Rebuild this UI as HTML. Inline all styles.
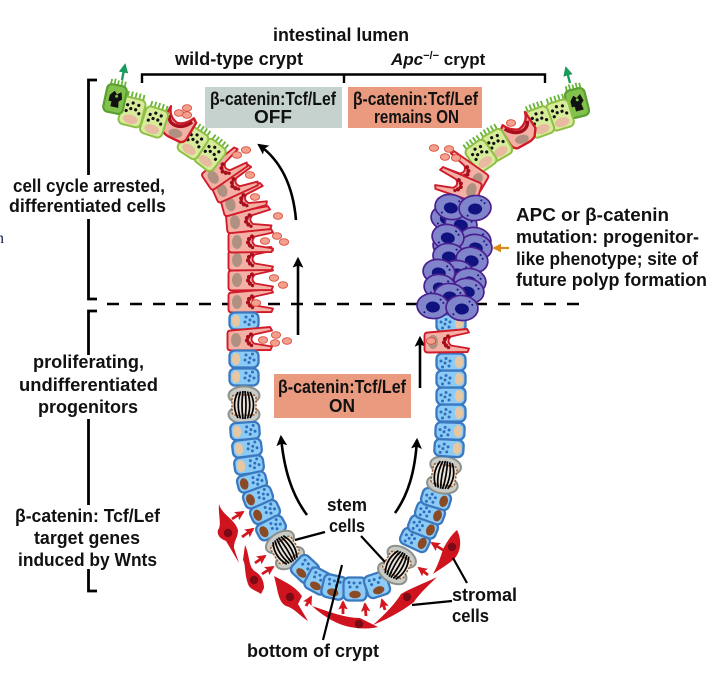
<!DOCTYPE html>
<html>
<head>
<meta charset="utf-8">
<style>
html,body{margin:0;padding:0;background:#fff;width:714px;height:676px;overflow:hidden}
svg{display:block}
text{font-family:"Liberation Sans",sans-serif;font-weight:bold;font-size:18px;fill:#111}
</style>
</head>
<body>
<svg width="714" height="676" viewBox="0 0 714 676" xmlns="http://www.w3.org/2000/svg">
<defs>
<marker id="mk" viewBox="0 0 10 10" refX="8" refY="5" markerWidth="4.2" markerHeight="5" orient="auto" markerUnits="strokeWidth"><path d="M0,0L10,5L0,10L2,5Z" fill="#000"/></marker>
<marker id="mr" viewBox="0 0 10 10" refX="8" refY="5" markerWidth="3.4" markerHeight="3.6" orient="auto" markerUnits="strokeWidth"><path d="M0,0L10,5L0,10L2,5Z" fill="#d4161f"/></marker>
<marker id="mg" viewBox="0 0 10 10" refX="8" refY="5" markerWidth="4" markerHeight="4.4" orient="auto" markerUnits="strokeWidth"><path d="M0,0L10,5L0,10Z" fill="#1d9a5e"/></marker>
<marker id="mo" viewBox="0 0 10 10" refX="8" refY="5" markerWidth="4" markerHeight="4.4" orient="auto" markerUnits="strokeWidth"><path d="M0,0L10,5L0,10Z" fill="#d98a1a"/></marker>
<g id="dots"><circle cx="2" cy="-4" r="1.5"/><circle cx="6" cy="-1" r="1.5"/><circle cx="1" cy="1" r="1.5"/><circle cx="5" cy="3.5" r="1.5"/><circle cx="8.5" cy="-5" r="1.5"/><circle cx="10" cy="1" r="1.5"/></g>
<g id="bt"><rect x="-14.5" y="-8.5" width="29" height="17" rx="5.5" fill="#8ccbf5" stroke="#3a78c0" stroke-width="2.3"/><ellipse cx="-8" cy="0" rx="4.2" ry="6" fill="#e6c7a2"/><use href="#dots" fill="#2f6fbd"/></g>
<g id="bb"><rect x="-14.5" y="-8.5" width="29" height="17" rx="5.5" fill="#8ccbf5" stroke="#3a78c0" stroke-width="2.3"/><ellipse cx="-8" cy="0" rx="4.2" ry="5.8" fill="#8a4a25"/><use href="#dots" fill="#2f6fbd"/></g>
<g id="bs"><rect x="-11.5" y="-11.5" width="23" height="23" rx="5.5" fill="#8ccbf5" stroke="#3a78c0" stroke-width="2.3"/><ellipse cx="-5.5" cy="0" rx="3.8" ry="5.8" fill="#8a4a25"/><g fill="#2f6fbd"><circle cx="2" cy="-5" r="1.5"/><circle cx="6" cy="-1" r="1.5"/><circle cx="2" cy="2" r="1.5"/><circle cx="6" cy="5" r="1.5"/><circle cx="6.5" cy="-6" r="1.5"/></g></g>
<g id="st"><ellipse cx="0" cy="-9.5" rx="15.5" ry="9" fill="#c9cbc6" stroke="#8d918c" stroke-width="2"/><ellipse cx="0" cy="9.5" rx="15.5" ry="9" fill="#c9cbc6" stroke="#8d918c" stroke-width="2"/><rect x="-12" y="-10" width="24" height="20" rx="3" fill="#e8e2d8" stroke="#a0623a" stroke-width="1.6" stroke-dasharray="2.2 1.4"/><g fill="none" stroke="#000" stroke-width="1.7"><path d="M-6,-13Q-13,0-6,13M-3.5,-13.5Q-8,0-3.5,13.5M-1,-14Q-3,0-1,14M1,-14Q3,0 1,14M3.5,-13.5Q8,0 3.5,13.5M6,-13Q13,0 6,13"/></g></g>
<g id="gb"><path d="M-18,-9.5L21,-13L23,-9.5L5,-5.5Q0,-1 5,3.5L23,6.5L21.5,10L-18,10.5Q-21.5,10.5-21.5,7.5L-21.5,-6.5Q-21.5,-9.5-18,-9.5Z" fill="#f4b0a4" stroke="#d01c2a" stroke-width="1.9" stroke-linejoin="round"/><ellipse cx="-13" cy="0" rx="5" ry="7" fill="#b09080"/><g fill="#a80f1e"><circle cx="2" cy="-5.5" r="2.1"/><circle cx="-1" cy="-3" r="2.1"/><circle cx="-2" cy="0.5" r="2.1"/><circle cx="0" cy="3.5" r="2.1"/><circle cx="2.5" cy="5.5" r="1.7"/></g></g>
<g id="gc"><path d="M-16,0L-10,-18Q-10,-7 0,-3Q8,-3 15,-11L18,-7L12,11Q10,15 6,15L-6,12Q-10,11-13,8Z" fill="#f4b0a4" stroke="#d01c2a" stroke-width="2.4" stroke-linejoin="round"/><path d="M-10,-9Q-9,-1 0,0Q8,0 14,-7" fill="none" stroke="#a80f1e" stroke-width="3.4"/><ellipse cx="0" cy="7.5" rx="7" ry="4.4" fill="#b09080"/></g>
<g id="gn"><path d="M-8,-13L-8,-19.5M-4,-13L-4,-20M0,-13L0,-20M4,-13L4,-20M8,-13L8,-19.5" stroke="#67b636" stroke-width="1.8" fill="none"/><rect x="-11.5" y="-14" width="23" height="28" rx="5" fill="#d7ec9a" stroke="#8fbf45" stroke-width="2"/><ellipse cx="0" cy="7.5" rx="7.5" ry="4.6" fill="#e8bba0"/><g fill="#111"><circle cx="-6" cy="-6" r="1.6"/><circle cx="-1" cy="-9" r="1.6"/><circle cx="5" cy="-8" r="1.6"/><circle cx="-2" cy="-3" r="1.6"/><circle cx="3" cy="-3" r="1.6"/><circle cx="7" cy="0" r="1.6"/><circle cx="-6" cy="0" r="1.6"/></g></g>
<g id="gd"><path d="M-7,-14L-7,-19M-3.5,-14L-3.5,-20M0,-14L0,-19M3.5,-14L3.5,-20M7,-14L7,-19" stroke="#67b636" stroke-width="1.8"/><rect x="-10" y="-14" width="20" height="28" rx="5" fill="#82c24c" stroke="#5aa032" stroke-width="2.2"/><path d="M-6,-3L-2,-8L1,-5L5,-8L7,-1L4,2L5,8L-3,8L-3,3L-6,3Z" fill="#111"/><circle cx="1" cy="-3" r="1.5" fill="#82c24c"/></g>
<g id="pu"><ellipse cx="0" cy="0" rx="16" ry="12.5" fill="#8084cb" stroke="#4a1f8f" stroke-width="1.7"/><ellipse cx="0" cy="1" rx="7" ry="5.5" fill="#10137f"/><circle cx="7" cy="-7" r="1" fill="#10137f"/><circle cx="10" cy="-4" r="1" fill="#10137f"/><circle cx="-8" cy="7" r="1" fill="#10137f"/></g>
<ellipse id="pk" cx="0" cy="0" rx="4.6" ry="3.3" fill="#f4a08e" stroke="#d9503c" stroke-width=".9"/>
</defs>

<rect width="714" height="676" fill="#fff"/>
<text x="-4" y="243" style="font-size:16px;font-weight:normal;font-family:'Liberation Serif',serif;fill:#0a1a4c">n</text>

<!-- brackets -->
<g fill="none" stroke="#000" stroke-width="2.8">
<path d="M142,83V74.5H545V83M344,74.5V83" stroke-width="2.4"/>
<path d="M97,80H88.5V175M88.5,219V299H97"/>
<path d="M97,311H88.5V355M88.5,419V505M88.5,569V591H97"/>
</g>
<path d="M107,304H590" stroke="#000" stroke-width="2.6" stroke-dasharray="12 11" fill="none"/>

<!-- boxes -->
<rect x="205" y="87" width="137" height="41" fill="#c6d2ce"/>
<rect x="348" y="87" width="134" height="41" fill="#ea9a7e"/>
<rect x="274" y="374" width="137" height="44" fill="#ea9a7e"/>

<!-- black arrows -->
<g fill="none" stroke="#000" stroke-width="2.6">
<path d="M296,220C293,185 280,160 259,145" marker-end="url(#mk)"/>
<path d="M298,335V259" marker-end="url(#mk)"/>
<path d="M420,388V338" marker-end="url(#mk)"/>
<path d="M307,515C292,495 284,470 281,437" marker-end="url(#mk)"/>
<path d="M395,513C408,495 415,472 417,440" marker-end="url(#mk)"/>
</g>

<!-- left column -->
<use href="#gb" transform="translate(250,302)"/>
<use href="#gb" transform="translate(250,280)"/>
<use href="#gb" transform="translate(250,260)"/>
<use href="#gb" transform="translate(250,242)"/>
<use href="#gb" transform="translate(248,221) rotate(-5)"/>
<use href="#gb" transform="translate(243,201) rotate(-15)"/>
<use href="#gb" transform="translate(234,185) rotate(-24)"/>
<use href="#gb" transform="translate(224,170) rotate(-34)"/>
<use href="#gn" transform="translate(210,155) rotate(38)"/>
<use href="#gn" transform="translate(193,143) rotate(33)"/>
<use href="#gc" transform="translate(177,126) rotate(12)"/>
<use href="#gn" transform="translate(154,122) rotate(18)"/>
<use href="#gn" transform="translate(132,112) rotate(14)"/>
<use href="#gd" transform="translate(115,99) rotate(12)"/>

<use href="#bt" transform="translate(244,321)"/>
<use href="#gb" transform="translate(249,340)"/>
<use href="#bt" transform="translate(244,359)"/>
<use href="#bt" transform="translate(244,377)"/>
<use href="#st" transform="translate(244,405)"/>
<use href="#bt" transform="translate(245,431) rotate(-4)"/>
<use href="#bt" transform="translate(247,448) rotate(-7)"/>
<use href="#bt" transform="translate(249,465) rotate(-8)"/>
<use href="#bb" transform="translate(252,482) rotate(-14)"/>
<use href="#bb" transform="translate(258,497) rotate(-20)"/>
<use href="#bb" transform="translate(265,512) rotate(-24)"/>
<use href="#bb" transform="translate(271,528) rotate(-28)"/>
<use href="#st" transform="translate(285,550) rotate(-32)"/>

<!-- bottom cells -->
<use href="#bs" transform="translate(305,569) rotate(-47)"/>
<use href="#bs" transform="translate(318,581) rotate(-62)"/>
<use href="#bs" transform="translate(334,587) rotate(-77)"/>
<use href="#bs" transform="translate(355,589) rotate(-90)"/>
<use href="#bs" transform="translate(377,585) rotate(-108)"/>
<use href="#st" transform="translate(397,565) rotate(30)"/>
<use href="#bb" transform="translate(415,540) rotate(-155)"/>
<use href="#bb" transform="translate(423,527) rotate(-158)"/>
<use href="#bb" transform="translate(430,513) rotate(-160)"/>
<use href="#bb" transform="translate(436,499) rotate(-163)"/>
<use href="#st" transform="translate(444,475) rotate(10)"/>

<!-- right column -->
<use href="#bt" transform="translate(449,448) rotate(-176)"/>
<use href="#bt" transform="translate(450,431) rotate(-178)"/>
<use href="#bt" transform="translate(451,413) rotate(180)"/>
<use href="#bt" transform="translate(451,396) rotate(180)"/>
<use href="#bt" transform="translate(451,379) rotate(180)"/>
<use href="#bt" transform="translate(451,362) rotate(180)"/>
<use href="#bt" transform="translate(451,323) rotate(180)"/>
<use href="#gb" transform="translate(446,342) scale(-1,1) rotate(180) scale(1,-1)"/>

<!-- top right -->
<use href="#gd" transform="translate(577,103) rotate(-14)"/>
<use href="#gn" transform="translate(560,115) rotate(-17)"/>
<use href="#gn" transform="translate(540,122) rotate(-20)"/>
<use href="#gc" transform="translate(520,132) scale(-1,1) rotate(15)"/>
<use href="#gn" transform="translate(497,145) rotate(-30)"/>
<use href="#gn" transform="translate(481,156) rotate(-35)"/>
<use href="#gb" transform="translate(466,173) scale(-1,1) rotate(-30)"/>
<use href="#gb" transform="translate(459,186) scale(-1,1) rotate(-18)"/>

<!-- purple polyp -->
<use href="#pu" transform="translate(447,218) rotate(10)"/>
<use href="#pu" transform="translate(461,224) rotate(10)"/>
<use href="#pu" transform="translate(451,207) rotate(10)"/>
<use href="#pu" transform="translate(475,208) rotate(-5)"/>
<use href="#pu" transform="translate(449,246) rotate(10)"/>
<use href="#pu" transform="translate(475,240) rotate(10)"/>
<use href="#pu" transform="translate(476,247) rotate(10)"/>
<use href="#pu" transform="translate(448,237) rotate(10)"/>
<use href="#pu" transform="translate(449,256) rotate(5)"/>
<use href="#pu" transform="translate(472,260) rotate(15)"/>
<use href="#pu" transform="translate(458,273) rotate(10)"/>
<use href="#pu" transform="translate(470,281) rotate(10)"/>
<use href="#pu" transform="translate(439,272) rotate(10)"/>
<use href="#pu" transform="translate(468,291) rotate(10)"/>
<use href="#pu" transform="translate(440,287) rotate(10)"/>
<use href="#pu" transform="translate(450,296) rotate(5)"/>
<use href="#pu" transform="translate(433,306) rotate(5)"/>
<use href="#pu" transform="translate(462,308) rotate(5)"/>

<!-- pink vesicles -->
<use href="#pk" x="179" y="113"/><use href="#pk" x="187" y="108"/><use href="#pk" x="187" y="115"/><use href="#pk" x="246" y="150"/><use href="#pk" x="237" y="155"/><use href="#pk" x="250" y="175"/><use href="#pk" x="255" y="197"/><use href="#pk" x="278" y="216"/><use href="#pk" x="277" y="236"/><use href="#pk" x="265" y="241"/><use href="#pk" x="284" y="242"/><use href="#pk" x="274" y="278"/><use href="#pk" x="283" y="285"/><use href="#pk" x="256" y="303"/>
<use href="#pk" x="276" y="335"/><use href="#pk" x="263" y="340"/><use href="#pk" x="275" y="343"/><use href="#pk" x="287" y="341"/>
<use href="#pk" x="434" y="148"/><use href="#pk" x="449" y="149"/><use href="#pk" x="445" y="157"/><use href="#pk" x="456" y="158"/><use href="#pk" x="511" y="123"/><use href="#pk" x="431" y="341"/>

<!-- stromal cells -->
<g fill="#d0141f">
<path d="M219,504C222,515 234,518 238,530C238,538 234,540 234,548L239,563L226,541C218,538 217,533 218,530C222,525 218,515 219,504Z"/>
<path d="M245,545C250,555 248,568 256,572C262,576 264,582 264,588L261,594C256,590 250,590 248,584C244,572 246,565 243,560Z"/>
<path d="M274,576C285,582 295,586 302,596L298,604L308,621C300,616 294,608 286,606C278,602 278,590 274,576Z"/>
<path d="M312,606C330,612 345,618 360,618L378,627C370,629 360,629 350,627C335,624 322,615 312,606Z"/>
<path d="M373,625C385,614 395,604 401,594C411,588 425,583 437,577C430,584 419,594 414,602C405,609 390,618 373,625Z"/>
<path d="M457,530C462,540 461,551 455,558C449,564 440,569 433,574C438,565 441,556 443,549C447,542 451,535 457,530Z"/>
</g>
<g fill="#7a0a14"><circle cx="228" cy="533" r="4.2"/><circle cx="254" cy="580" r="4.2"/><circle cx="290" cy="597" r="4.2"/><circle cx="359" cy="624" r="4.2"/><circle cx="407" cy="597" r="4.2"/><circle cx="452" cy="547" r="4.2"/></g>

<!-- small red arrows -->
<g stroke="#d4161f" stroke-width="2.8" fill="none">
<path d="M232,519L243,512" marker-end="url(#mr)"/>
<path d="M242,537L253,529" marker-end="url(#mr)"/>
<path d="M255,563L265,556" marker-end="url(#mr)"/>
<path d="M262,574L273,567" marker-end="url(#mr)"/>
<path d="M306,606L311,597" marker-end="url(#mr)"/>
<path d="M343,614V602" marker-end="url(#mr)"/>
<path d="M366,616L365,604" marker-end="url(#mr)"/>
<path d="M385,610L382,600" marker-end="url(#mr)"/>
<path d="M428,575L419,568" marker-end="url(#mr)"/>
<path d="M443,550L432,543" marker-end="url(#mr)"/>
</g>

<!-- leader lines -->
<g stroke="#000" stroke-width="2.2" fill="none">
<path d="M325,532L295,540"/>
<path d="M361,536L385,562"/>
<path d="M342,565L323,640"/>
<path d="M467,583L453,558"/>
<path d="M452,601L412,605"/>
</g>

<!-- coloured arrows -->
<path d="M122,80L125,65" stroke="#1d9a5e" stroke-width="2.4" fill="none" marker-end="url(#mg)"/>
<path d="M570,83L566,68" stroke="#1d9a5e" stroke-width="2.4" fill="none" marker-end="url(#mg)"/>
<path d="M509,248H494" stroke="#d98a1a" stroke-width="2.2" fill="none" marker-end="url(#mo)"/>

<!-- labels -->
<text x="273" y="41" textLength="136" lengthAdjust="spacingAndGlyphs">intestinal lumen</text>
<text x="175" y="65" textLength="128" lengthAdjust="spacingAndGlyphs">wild-type crypt</text>
<text x="391" y="65" style="font-size:17px"><tspan font-style="italic">Apc</tspan><tspan font-size="11" dy="-6">−/−</tspan><tspan dy="6"> crypt</tspan></text>
<text x="210" y="105" textLength="126" lengthAdjust="spacingAndGlyphs">β-catenin:Tcf/Lef</text>
<text x="273" y="123" text-anchor="middle" textLength="38" lengthAdjust="spacingAndGlyphs">OFF</text>
<text x="353" y="105" textLength="125" lengthAdjust="spacingAndGlyphs">β-catenin:Tcf/Lef</text>
<text x="374" y="123" textLength="85" lengthAdjust="spacingAndGlyphs">remains ON</text>
<text x="278" y="393" textLength="128" lengthAdjust="spacingAndGlyphs">β-catenin:Tcf/Lef</text>
<text x="342" y="412" text-anchor="middle" textLength="26" lengthAdjust="spacingAndGlyphs">ON</text>
<text x="13" y="192" textLength="152" lengthAdjust="spacingAndGlyphs">cell cycle arrested,</text>
<text x="9" y="212" textLength="157" lengthAdjust="spacingAndGlyphs">differentiated cells</text>
<text x="33" y="368" textLength="111" lengthAdjust="spacingAndGlyphs">proliferating,</text>
<text x="19" y="391" textLength="139" lengthAdjust="spacingAndGlyphs">undifferentiated</text>
<text x="38" y="413" textLength="100" lengthAdjust="spacingAndGlyphs">progenitors</text>
<text x="15" y="522" textLength="145" lengthAdjust="spacingAndGlyphs">β-catenin: Tcf/Lef</text>
<text x="34" y="544" textLength="106" lengthAdjust="spacingAndGlyphs">target genes</text>
<text x="18" y="566" textLength="139" lengthAdjust="spacingAndGlyphs">induced by Wnts</text>
<text x="327" y="511" textLength="40" lengthAdjust="spacingAndGlyphs">stem</text>
<text x="329" y="532" textLength="36" lengthAdjust="spacingAndGlyphs">cells</text>
<text x="452" y="601" textLength="65" lengthAdjust="spacingAndGlyphs">stromal</text>
<text x="452" y="622" textLength="37" lengthAdjust="spacingAndGlyphs">cells</text>
<text x="247" y="657" textLength="132" lengthAdjust="spacingAndGlyphs">bottom of crypt</text>
<text x="516" y="221" textLength="153" lengthAdjust="spacingAndGlyphs">APC or β-catenin</text>
<text x="516" y="243" textLength="183" lengthAdjust="spacingAndGlyphs">mutation: progenitor-</text>
<text x="516" y="265" textLength="182" lengthAdjust="spacingAndGlyphs">like phenotype; site of</text>
<text x="516" y="286" textLength="191" lengthAdjust="spacingAndGlyphs">future polyp formation</text>
</svg>
</body>
</html>
